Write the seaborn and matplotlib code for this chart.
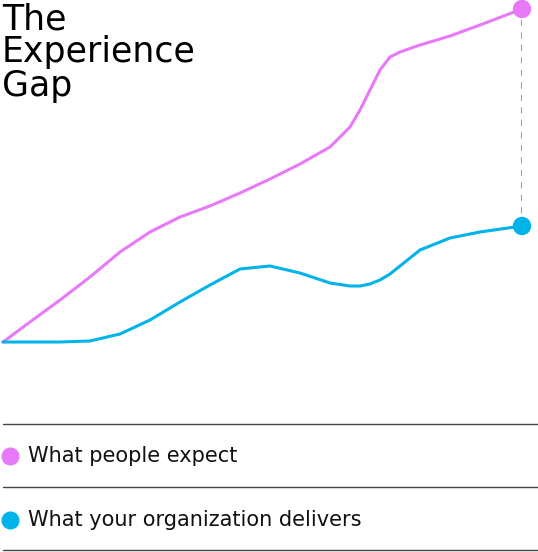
import matplotlib
matplotlib.use("Agg")
import matplotlib.pyplot as plt
import seaborn as sns
import pandas as pd

sns.set_style("white")
plt.rcParams['font.family'] = ['DejaVu Sans']

x = [3, 30, 60, 90, 120, 150, 180, 210, 240, 270, 300, 330, 350, 360, 370, 380, 390, 400, 420, 450, 480, 522]
expect = [0, 20, 42, 65, 90, 110, 125, 136, 149, 163, 178, 195, 215, 232, 252, 272, 285, 290, 297, 306, 317, 333]
deliver = [0, 0, 0, 1, 8, 22, 40, 57, 73, 76, 69, 59, 56, 56, 58, 62, 68, 76, 92, 104, 110, 116]
labels = ["What people expect", "What your organization delivers"]
colors = ["#e879f9", "#00b4ea"]

fig = plt.figure(figsize=(5.38, 5.52), dpi=100)
ax = fig.add_axes([3/538, 1-342/552, 519/538, 333/552])
df = pd.DataFrame({"x": x * 2, "y": expect + deliver,
                   "s": [labels[0]] * len(x) + [labels[1]] * len(x)})
sns.lineplot(data=df, x="x", y="y", hue="s", palette=colors, ax=ax,
             legend=False, linewidth=2.2)
for l in ax.lines:
    l.set_clip_on(False)
ax.plot([x[-1], x[-1]], [deliver[-1], expect[-1]], ls=(0, (3, 3)), color="#a0a0a0", lw=1.5, zorder=1)
ax.scatter([x[-1]] * 2, [expect[-1], deliver[-1]], c=colors, s=150, zorder=5, clip_on=False)
ax.set_xlim(3, 522)
ax.set_ylim(0, 333)
ax.axis("off")

fig.text(2/538, 1-2/552, "The\nExperience\nGap", fontsize=25, va="top", ha="left",
         linespacing=0.98, color="black")

for yp in [424, 487, 550]:
    fig.add_artist(plt.Line2D([3/538, 538/538], [1-yp/552] * 2, color="#444444", lw=1))
for yp, lab, c in zip([456, 520], labels, colors):
    fig.add_artist(plt.Line2D([10/538], [1-yp/552], marker="o", markersize=12, color=c, lw=0))
    fig.text(28/538, 1-yp/552, lab, fontsize=15, va="center", ha="left", color="#111111")

fig.savefig("out.png", dpi=100)
